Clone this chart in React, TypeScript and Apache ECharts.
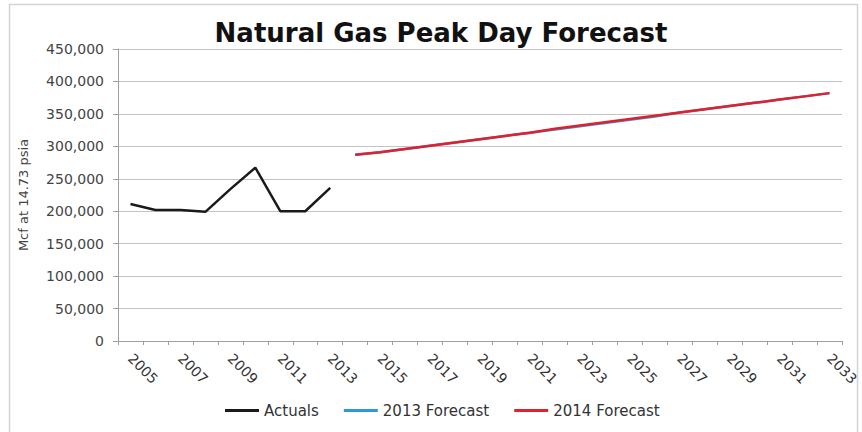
import React, { useEffect, useRef } from "react";
import * as echarts from "echarts";

const years: string[] = [
  "2005", "2006", "2007", "2008", "2009", "2010", "2011", "2012", "2013", "2014",
  "2015", "2016", "2017", "2018", "2019", "2020", "2021", "2022", "2023", "2024",
  "2025", "2026", "2027", "2028", "2029", "2030", "2031", "2032", "2033",
];

const actuals: (number | null)[] = [
  211000, 202000, 202000, 199000, 234000, 267000, 200000, 200000, 236000,
  null, null, null, null, null, null, null, null, null, null, null,
  null, null, null, null, null, null, null, null, null,
];

const forecast2013: (number | null)[] = [
  null, null, null, null, null, null, null, null, null,
  287000, 291000, 296000, 301000, 306000, 311000, 316000, 321000, 326000, 331000, 336000,
  341000, 346000, 352000, 357000, 362000, 367000, 372000, 377000, 382000,
];

const forecast2014: (number | null)[] = [
  null, null, null, null, null, null, null, null, null,
  287000, 291000, 296000, 301000, 306000, 311000, 316000, 321000, 327000, 332000, 337000,
  342000, 347000, 352000, 357000, 362000, 367000, 372000, 377000, 382000,
];

const seriesNames = ["Actuals", "2013 Forecast", "2014 Forecast"];
const seriesColors = ["#1a1a1a", "#2b9ad6", "#e0202c"];

const FONT = "DejaVu Sans, Verdana, sans-serif";

export default function App() {
  const ref = useRef<HTMLDivElement>(null);
  useEffect(() => {
    if (!ref.current) return;
    const chart = echarts.init(ref.current, null, { renderer: "svg" });
    const mk = (i: number, data: (number | null)[], z: number) => ({
      name: seriesNames[i],
      type: "line",
      data,
      showSymbol: false,
      symbol: "none",
      connectNulls: false,
      z,
      lineStyle: { color: seriesColors[i], width: 2.5 },
      itemStyle: { color: seriesColors[i] },
    });
    chart.setOption({
      animation: false,
      backgroundColor: "#ffffff",
      textStyle: { fontFamily: FONT },
      title: {
        text: "Natural Gas Peak Day Forecast",
        left: 436,
        textAlign: "center",
        top: 15,
        textStyle: { fontFamily: FONT, fontSize: 26, fontWeight: "bold", color: "#111" },
      },
      graphic: [
        {
          type: "rect",
          shape: { x: 9.5, y: 4.5, width: 848, height: 440 },
          style: { fill: "none", stroke: "#d4d4d4", lineWidth: 1.5 },
          silent: true,
          z: -1,
        },
      ],
      legend: {
        bottom: 9,
        left: 220,
        itemGap: 25,
        itemWidth: 34,
        itemHeight: 3,
        icon: "rect",
        textStyle: { fontFamily: FONT, fontSize: 15, color: "#333" },
        data: seriesNames,
      },
      grid: { left: 118, right: 20, top: 49, bottom: 91, containLabel: false },
      xAxis: {
        type: "category",
        data: years,
        boundaryGap: true,
        axisLine: { show: true, lineStyle: { color: "#a0a0a0", width: 1 } },
        axisTick: { show: true, interval: 0, length: 4, lineStyle: { color: "#a0a0a0" } },
        axisLabel: {
          interval: 1,
          rotate: -45,
          margin: 15,
          fontFamily: FONT,
          fontSize: 14,
          color: "#333",
        },
      },
      yAxis: {
        type: "value",
        min: 0,
        max: 450000,
        interval: 50000,
        name: "Mcf at 14.73 psia",
        nameLocation: "middle",
        nameRotate: 90,
        nameGap: 88,
        nameTextStyle: { fontFamily: FONT, fontSize: 13, color: "#444" },
        axisLine: { show: true, lineStyle: { color: "#a0a0a0", width: 1 } },
        axisTick: { show: true, length: 5, lineStyle: { color: "#a0a0a0" } },
        splitLine: { show: true, lineStyle: { color: "#c4c4c4", width: 1 } },
        axisLabel: {
          fontFamily: FONT,
          fontSize: 14,
          color: "#444",
          margin: 14,
          formatter: (v: number) => v.toLocaleString("en-US"),
        },
      },
      series: [mk(0, actuals, 3), mk(1, forecast2013, 2), mk(2, forecast2014, 4)],
    });
    return () => chart.dispose();
  }, []);
  return (
    <div
      ref={ref}
      style={{ position: "fixed", left: 0, top: 0, width: 862, height: 432 }}
    />
  );
}
